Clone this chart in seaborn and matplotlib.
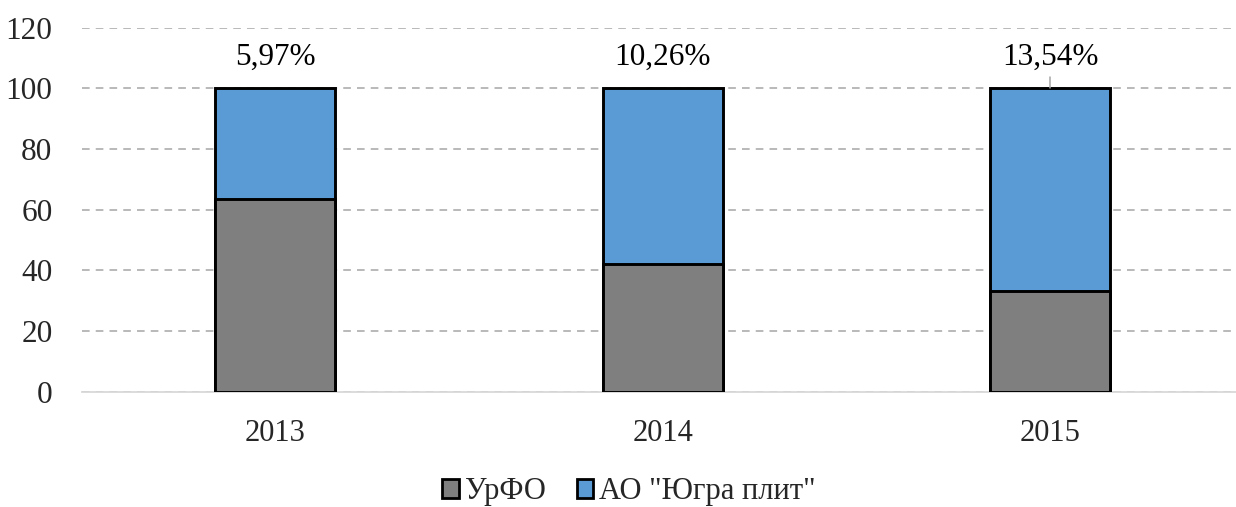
import matplotlib
matplotlib.use("Agg")
import matplotlib.pyplot as plt
import seaborn as sns
import pandas as pd
from matplotlib.patches import Patch

# data
years = ["2013", "2014", "2015"]
urfo = [63.4, 42.2, 33.2]
jugra = [36.6, 57.8, 66.8]
share_labels = ["5,97%", "10,26%", "13,54%"]
series_names = ["УрФО", 'АО "Югра плит"']

grey = "#7f7f7f"
blue = "#5b9bd5"

sns.set_theme(style="white")
plt.rcParams["font.family"] = ["Liberation Serif", "DejaVu Serif"]

df = pd.DataFrame({"year": years, "urfo": urfo, "jugra": jugra})
df["total"] = df["urfo"] + df["jugra"]

fig = plt.figure(figsize=(12.36, 5.07), dpi=100)
ax = fig.add_axes([0.066, 0.2274, 0.934, 0.718])

# stacked bars: full height in blue, grey part drawn over it
sns.barplot(data=df, x="year", y="total", color=blue, width=0.31,
            edgecolor="black", linewidth=2.1, saturation=1, ax=ax, zorder=3)
sns.barplot(data=df, x="year", y="urfo", color=grey, width=0.31,
            edgecolor="black", linewidth=2.1, saturation=1, ax=ax, zorder=3)

ax.set_ylim(0, 120)
ax.set_yticks(range(0, 121, 20))
ax.set_xlim(-0.5, 2.48)
ax.set_xlabel("")
ax.set_ylabel("")

# grid lines
ax.yaxis.grid(True, color="#a6a6a6", linestyle=(0, (5, 4)), linewidth=1.1, zorder=0)
ax.set_axisbelow(True)
for side in ["top", "right", "left"]:
    ax.spines[side].set_visible(False)
ax.spines["bottom"].set_color("#d9d9d9")
ax.spines["bottom"].set_linewidth(1.3)

ax.tick_params(axis="y", length=0, pad=21, labelsize=22.5)
ax.tick_params(axis="x", length=0, pad=20, labelsize=22)

# share labels above bars
for i, (lab, tot) in enumerate(zip(share_labels, df["total"])):
    ax.text(i, 107.7, lab, ha="center", va="baseline", fontsize=22.5, color="black")
# leader line on the last label
ax.plot([2, 2], [df["total"].iloc[2], 103.9], color="#a6a6a6", linewidth=1.1, zorder=4)

handles = [Patch(facecolor=grey, edgecolor="black", linewidth=2.0),
           Patch(facecolor=blue, edgecolor="black", linewidth=2.0)]
fig.legend(handles, series_names, loc="center", bbox_to_anchor=(0.509, 0.03),
           ncol=2, frameon=False, fontsize=22, handlelength=0.55, handleheight=0.55,
           handletextpad=0.2, columnspacing=1.0)

fig.savefig("out.png", dpi=100)
